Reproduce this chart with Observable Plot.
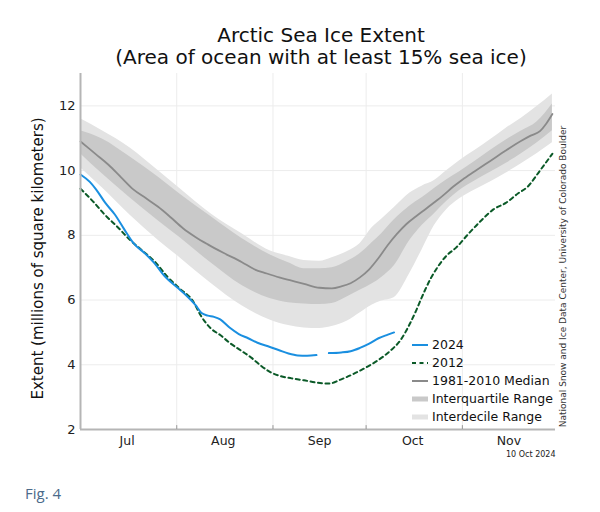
<!DOCTYPE html>
<html><head><meta charset="utf-8">
<script src="https://cdn.jsdelivr.net/npm/d3@7"></script>
<script src="https://cdn.jsdelivr.net/npm/@observablehq/plot@0.6"></script>
<style>
html,body{margin:0;padding:0;background:#fff;}
body{width:600px;height:512px;overflow:hidden;position:relative;}
#title{height:68px;box-sizing:border-box;padding-top:24px;padding-left:42px;width:600px;text-align:center;font-family:"DejaVu Sans";font-size:20px;line-height:22px;color:#111;}
#chart svg{display:block;}
#fig{position:absolute;left:25px;top:484px;font-family:"Open Sans";font-size:15px;line-height:18px;color:#4b6a8a;}
</style></head>
<body>
<div id="title">Arctic Sea Ice Extent<br>(Area of ocean with at least 15% sea ice)</div>
<div id="chart"></div>
<div id="fig">Fig. 4</div>
<script>
// ---- data (millions of km², month-day) ----
const bandDates = ["07-01","07-08","07-17","07-26","08-02","08-12","08-22","08-31","09-06","09-11","09-16","09-20","09-25","09-29","10-03","10-06","10-10","10-15","10-19","10-23","10-27","10-31","11-05","11-10","11-15","11-20","11-25","11-30"];
const interdecileLow  = [10.09,9.47,8.62,7.85,7.31,6.52,5.82,5.38,5.21,5.14,5.12,5.18,5.35,5.60,5.85,5.97,6.07,6.81,7.55,8.30,8.80,9.12,9.40,9.65,9.92,10.21,10.52,10.86];
const interquartileLow  = [10.52,9.90,9.15,8.45,7.93,7.15,6.45,6.05,5.92,5.88,5.86,5.89,6.10,6.30,6.50,6.70,7.05,7.83,8.30,8.67,9.05,9.38,9.68,9.95,10.22,10.52,10.85,11.23];
const interquartileHigh = [11.23,10.98,10.42,9.80,9.28,8.58,7.90,7.40,7.15,6.97,6.97,7.00,7.20,7.43,7.78,8.05,8.47,8.90,9.16,9.45,9.72,9.96,10.28,10.62,10.94,11.22,11.50,12.06];
const interdecileHigh = [11.60,11.23,10.70,10.00,9.45,8.67,8.05,7.52,7.35,7.22,7.20,7.31,7.50,7.74,8.24,8.50,8.85,9.30,9.52,9.69,10.00,10.30,10.62,10.95,11.30,11.62,11.98,12.37];

const medianDates = ["07-01","07-06","07-10","07-14","07-18","07-22","07-26","07-30","08-03","08-07","08-11","08-16","08-22","08-26","08-30","09-03","09-07","09-11","09-16","09-20","09-23","09-26","09-29","10-02","10-05","10-08","10-11","10-14","10-17","10-20","10-23","10-26","10-29","11-01","11-05","11-10","11-15","11-20","11-23","11-26","11-28","11-30"];
const medianValues = [10.90,10.50,10.18,9.80,9.42,9.15,8.88,8.56,8.22,7.95,7.72,7.46,7.17,6.95,6.82,6.70,6.60,6.50,6.38,6.36,6.42,6.52,6.70,6.95,7.30,7.70,8.05,8.35,8.58,8.80,9.02,9.25,9.50,9.72,9.98,10.30,10.62,10.92,11.08,11.22,11.45,11.75];

const dates2024 = ["07-01","07-04","07-06","07-09","07-12","07-15","07-18","07-22","07-25","07-28","08-01","08-04","08-07","08-09","08-11","08-13","08-15","08-18","08-21","08-24","08-27","08-31","09-03","09-06","09-09","09-12","09-15","09-17","09-19","09-23","09-26","09-29","10-02","10-05","10-08","10-10"];
const extent2024 = [9.88,9.65,9.42,9.00,8.65,8.20,7.77,7.42,7.12,6.75,6.40,6.15,5.85,5.60,5.52,5.48,5.40,5.15,4.95,4.82,4.68,4.55,4.45,4.35,4.29,4.28,4.30,null,4.36,4.38,4.42,4.52,4.65,4.82,4.93,5.00];

const dates2012 = ["07-01","07-05","07-09","07-13","07-17","07-21","07-25","07-29","08-02","08-06","08-09","08-12","08-15","08-18","08-22","08-25","08-28","08-31","09-03","09-07","09-11","09-15","09-19","09-23","09-27","10-01","10-05","10-09","10-12","10-15","10-17","10-19","10-22","10-25","10-27","10-30","11-03","11-07","11-11","11-15","11-19","11-22","11-26","11-30"];
const extent2012 = [9.44,9.05,8.62,8.25,7.85,7.52,7.18,6.72,6.35,6.00,5.48,5.12,4.92,4.68,4.42,4.22,3.98,3.78,3.66,3.58,3.52,3.45,3.42,3.55,3.72,3.92,4.15,4.45,4.75,5.25,5.65,6.10,6.70,7.15,7.38,7.62,8.05,8.45,8.80,9.00,9.30,9.50,10.00,10.52];

const monthStarts = ["07-01","08-01","09-01","10-01","11-01","12-01"];
const monthLabelDates = ["07-16","08-16","09-16","10-16","11-16"];
const monthLabels = ["Jul","Aug","Sep","Oct","Nov"];
const yTicks = [2,4,6,8,10,12];
const legendLabels = ["2024","2012","1981-2010 Median","Interquartile Range","Interdecile Range"];

// ---- build tables ----
const parse = md => new Date(Date.UTC(2024, +md.slice(0,2) - 1, +md.slice(3)));
const bands = bandDates.map((d,i) => ({date: parse(d), idLow: interdecileLow[i], iqLow: interquartileLow[i], iqHigh: interquartileHigh[i], idHigh: interdecileHigh[i]}));
const median = medianDates.map((d,i) => ({date: parse(d), v: medianValues[i]}));
const s2024 = dates2024.map((d,i) => ({date: parse(d), v: extent2024[i]}));
const s2012 = dates2012.map((d,i) => ({date: parse(d), v: extent2012[i]}));

const C = {light:"#e3e3e3", dark:"#c9c9c9", median:"#8a8a8a", y2024:"#1a8fe0", y2012:"#0b5a28", axis:"#b5b5b5", grid:"#ececec"};

const chart = Plot.plot({
  width: 600, height: 395,
  marginTop: 5, marginLeft: 80, marginRight: 45, marginBottom: 34,
  style: {fontFamily: "DejaVu Sans", background: "#fff", color: "#222", overflow: "visible"},
  x: {type: "utc", domain: [parse("07-01"), parse("12-01")]},
  y: {domain: [2, 13]},
  marks: [
    Plot.gridY(yTicks.filter(v => v > 2), {stroke: C.grid, strokeOpacity: 1}),
    Plot.gridX(monthStarts.slice(1, 5).map(parse), {stroke: C.grid, strokeOpacity: 1}),
    Plot.areaY(bands, {x: "date", y1: "idLow", y2: "idHigh", fill: C.light, curve: "monotone-x"}),
    Plot.areaY(bands, {x: "date", y1: "iqLow", y2: "iqHigh", fill: C.dark, curve: "monotone-x"}),
    Plot.line(median, {x: "date", y: "v", stroke: C.median, strokeWidth: 1.8, curve: "monotone-x"}),
    Plot.line(s2012, {x: "date", y: "v", stroke: C.y2012, strokeWidth: 2, strokeDasharray: "4,3.5", curve: "monotone-x"}),
    Plot.line(s2024, {x: "date", y: "v", stroke: C.y2024, strokeWidth: 2, curve: "monotone-x"}),
    Plot.ruleX([parse("07-01")], {stroke: C.axis, strokeWidth: 2}),
    Plot.ruleY([2], {stroke: C.axis, strokeWidth: 2}),
    Plot.ruleX(monthStarts.slice(1, 5).map(parse), {y1: 2, y2: 2.12, stroke: "#999"}),
    Plot.axisY(yTicks, {tickSize: 0, tickPadding: 5, fontSize: 13, label: null}),
    Plot.axisX(monthLabelDates.map(parse), {tickSize: 0, tickPadding: 7, fontSize: 12.5, label: null,
      tickFormat: d => monthLabels[d.getUTCMonth() - 6]}),
    Plot.text(["Extent (millions of square kilometers)"], {frameAnchor: "left", textAnchor: "middle", lineAnchor: "middle", dx: -42, dy: 7, rotate: -90, fontSize: 15, fill: "#111"}),
    Plot.text(["National Snow and Ice Data Center, University of Colorado Boulder"], {frameAnchor: "right", textAnchor: "middle", lineAnchor: "middle", dx: 8, dy: 25, rotate: -90, fontSize: 9, fill: "#333"}),
    Plot.text(["10 Oct 2024"], {frameAnchor: "bottom-right", textAnchor: "end", dy: 27, fontSize: 8, fill: "#222"})
  ]
});
document.getElementById("chart").appendChild(chart);

// legend
const svg = d3.select(chart);
const lg = svg.append("g").attr("font-family", "DejaVu Sans").attr("font-size", 12.5).attr("fill", "#111").attr("text-anchor", "start");
const rowY = [277, 295, 313, 331, 349];
const sw = [
  {stroke: C.y2024, w: 2, dash: null},
  {stroke: C.y2012, w: 2, dash: "4,3.5"},
  {stroke: C.median, w: 2, dash: null},
  {stroke: C.dark, w: 5, dash: null},
  {stroke: C.light, w: 5, dash: null}
];
legendLabels.forEach((t, i) => {
  lg.append("line").attr("x1", 412).attr("x2", 428).attr("y1", rowY[i]).attr("y2", rowY[i])
    .attr("stroke", sw[i].stroke).attr("stroke-width", sw[i].w).attr("stroke-dasharray", sw[i].dash);
  lg.append("text").attr("x", 432).attr("y", rowY[i]).attr("dy", "0.35em").attr("text-anchor", "start").text(t);
});
</script>
</body></html>
